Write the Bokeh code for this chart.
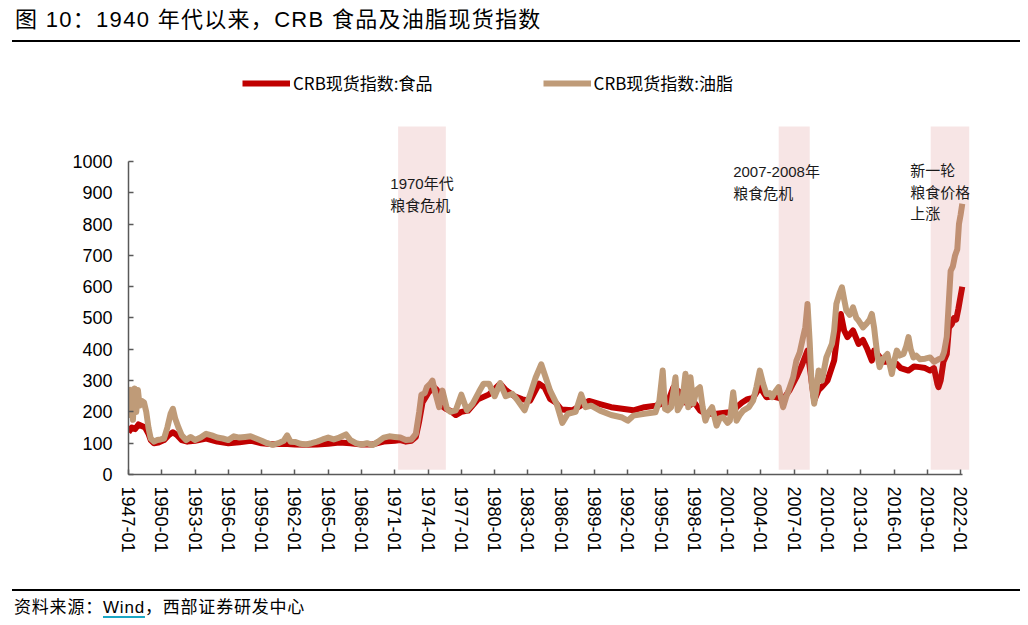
from bokeh.plotting import figure
from bokeh.models import Label, Legend, LegendItem, FixedTicker, Div
from bokeh.layouts import column
from bokeh.embed import file_html
from bokeh.resources import INLINE

# ---------------- data (decimal years) ----------------
food_years = [1947.0, 1947.3, 1947.6, 1947.9, 1948.2, 1948.5, 1948.8, 1949.0, 1949.3, 1949.7,
              1950.2, 1950.6, 1951.0, 1951.4, 1951.8, 1952.3, 1953.0, 1954.0, 1955.0, 1956.0,
              1957.0, 1958.0, 1959.0, 1960.0, 1961.0, 1962.0, 1963.0, 1964.0, 1965.0, 1966.0,
              1967.0, 1968.0, 1969.0, 1970.0, 1971.0, 1971.5, 1972.0, 1972.5, 1972.9, 1973.2,
              1973.5, 1974.0, 1974.5, 1974.8, 1975.2, 1975.6, 1976.0, 1976.5, 1977.0, 1977.6,
              1978.5, 1979.5, 1980.5, 1981.0, 1981.8, 1982.5, 1983.2, 1984.0, 1984.5, 1985.0,
              1985.5, 1986.0, 1987.0, 1988.0, 1988.5, 1989.5, 1990.5, 1991.5, 1992.5, 1993.5,
              1994.5, 1995.0, 1995.6, 1996.1, 1996.8, 1997.2, 1997.6, 1998.0, 1998.5, 1999.0,
              2000.0, 2001.0, 2001.5, 2001.8, 2002.3, 2002.8, 2003.3, 2003.9, 2004.5, 2005.0,
              2005.6, 2006.0, 2006.6, 2007.2, 2007.7, 2008.2, 2008.45, 2008.8, 2009.2, 2009.5,
              2010.0, 2010.6, 2010.9, 2011.2, 2011.5, 2011.8, 2012.3, 2012.8, 2013.2, 2013.6,
              2014.0, 2014.2, 2014.6, 2015.0, 2015.5, 2016.25, 2016.6, 2017.3, 2017.8, 2018.3,
              2018.8, 2019.25, 2019.6, 2019.9, 2020.0, 2020.2, 2020.45, 2020.75, 2020.95, 2021.2,
              2021.4, 2021.6, 2021.8, 2022.0, 2022.15]
food_vals = [135, 150, 145, 160, 155, 150, 130, 110, 100, 102,
             110, 125, 135, 125, 110, 105, 108, 115, 105, 100,
             103, 108, 100, 97, 98, 96, 95, 96, 98, 102,
             100, 96, 96, 105, 108, 110, 105, 108, 120, 170,
             230, 260, 280, 270, 220, 210, 204, 190, 200, 204,
             240, 256, 290, 270, 250, 240, 236, 290, 278, 241,
             230, 208, 205, 225, 235, 225, 215, 210, 205, 215,
             220, 225, 230, 278, 260, 230, 221, 230, 205, 194,
             194, 198, 200, 215, 230, 241, 245, 279, 247, 250,
             245, 240, 270, 311, 350, 396, 330, 236, 270, 280,
             300, 364, 450, 513, 460, 439, 460, 417, 430, 400,
             364, 396, 380, 360, 360, 353, 340, 332, 345, 343,
             340, 332, 340, 290, 279, 300, 360, 385, 470, 480,
             500, 495, 530, 570, 600]

fat_years = [1947.0, 1947.1, 1947.25, 1947.4, 1947.55, 1947.7, 1947.85, 1948.0, 1948.2, 1948.4,
             1948.6, 1948.8, 1949.0, 1949.3, 1949.6, 1949.9, 1950.2, 1950.5, 1950.8, 1951.0,
             1951.2, 1951.5, 1951.8, 1952.2, 1952.6, 1953.0, 1953.5, 1954.0, 1954.5, 1955.0,
             1955.5, 1956.0, 1956.5, 1957.0, 1957.5, 1958.0, 1958.5, 1959.0, 1959.5, 1960.0,
             1960.5, 1961.0, 1961.3, 1961.6, 1962.0, 1962.5, 1963.0, 1963.5, 1964.0, 1964.5,
             1965.0, 1965.5, 1966.0, 1966.6, 1967.0, 1967.5, 1968.0, 1968.5, 1969.0, 1969.5,
             1970.0, 1970.5, 1971.0, 1971.5, 1972.0, 1972.5, 1972.9, 1973.2, 1973.4, 1973.7,
             1973.9, 1974.2, 1974.4, 1974.6, 1975.0, 1975.3, 1975.7, 1976.0, 1976.5, 1977.0,
             1977.5, 1978.0, 1978.6, 1979.0, 1979.5, 1980.0, 1980.5, 1981.0, 1981.6, 1982.0,
             1982.7, 1983.2, 1983.7, 1984.2, 1984.6, 1985.0, 1985.6, 1986.1, 1986.6, 1987.3,
             1987.8, 1988.2, 1988.7, 1989.5, 1990.5, 1991.5, 1992.0, 1992.5, 1993.5, 1994.5,
             1994.85, 1995.15, 1995.35, 1995.6, 1995.9, 1996.3, 1996.5, 1996.9, 1997.2, 1997.45,
             1997.65, 1997.9, 1998.2, 1998.5, 1998.75, 1999.0, 1999.3, 1999.6, 2000.0, 2000.3,
             2000.6, 2001.0, 2001.2, 2001.5, 2001.8, 2002.1, 2002.4, 2002.9, 2003.3, 2003.6,
             2003.9, 2004.2, 2004.5, 2004.8, 2005.0, 2005.3, 2005.6, 2006.0, 2006.3, 2006.6,
             2006.9, 2007.2, 2007.5, 2007.8, 2008.0, 2008.2, 2008.4, 2008.55, 2008.8, 2009.0,
             2009.2, 2009.5, 2009.9, 2010.4, 2010.6, 2010.8, 2011.1, 2011.3, 2011.5, 2011.7,
             2012.0, 2012.3, 2012.6, 2012.8, 2013.2, 2013.5, 2013.8, 2014.0, 2014.2, 2014.3,
             2014.5, 2014.7, 2015.0, 2015.4, 2015.8, 2016.0, 2016.25, 2016.5, 2016.85, 2017.1,
             2017.3, 2017.5, 2017.75, 2018.0, 2018.35, 2018.8, 2019.25, 2019.6, 2020.0, 2020.3,
             2020.5, 2020.75, 2020.95, 2021.1, 2021.3, 2021.5, 2021.7, 2021.85, 2022.0, 2022.15]
fat_vals = [280, 190, 270, 175, 275, 200, 270, 220, 235, 230,
            200, 150, 115, 105, 110, 112, 115, 150, 195, 210,
            180, 150, 125, 110, 120, 110, 118, 130, 125, 118,
            115, 110, 122, 118, 120, 122, 115, 108, 100, 95,
            100, 108, 125, 105, 104, 98, 96, 100, 105, 112,
            118, 112, 118, 128, 110, 100, 96, 100, 94, 105,
            118, 122, 120, 118, 110, 112, 130, 200, 255, 260,
            280, 290, 300, 268, 215, 268, 210, 200, 205, 255,
            205, 225, 265, 290, 290, 250, 292, 250, 258, 240,
            205, 256, 310, 352, 310, 268, 225, 165, 194, 200,
            256, 215, 220, 204, 190, 182, 172, 188, 194, 199,
            236, 332, 210, 205, 215, 311, 205, 230, 322, 215,
            311, 226, 270, 279, 215, 172, 200, 215, 156, 180,
            183, 165, 172, 263, 172, 190, 204, 215, 236, 280,
            332, 290, 257, 260, 247, 265, 279, 215, 250, 279,
            310, 364, 390, 439, 470, 545, 420, 300, 226, 270,
            332, 300, 374, 417, 460, 545, 580, 598, 560, 524,
            510, 534, 500, 492, 470, 481, 495, 513, 470, 439,
            380, 343, 370, 385, 321, 360, 396, 380, 385, 410,
            439, 400, 374, 380, 368, 370, 374, 360, 368, 372,
            390, 439, 560, 650, 665, 700, 720, 800, 830, 865]

# crisis periods (shaded)
shade_start = [1971.3, 2005.6, 2019.3]
shade_end = [1975.6, 2008.4, 2022.8]

x_tick_years = list(range(1947, 2023, 3))
x_tick_labels = [f"{y}-01" for y in x_tick_years]
y_ticks = list(range(0, 1001, 100))

series_names = ["CRB现货指数:食品", "CRB现货指数:油脂"]
title_text = "图 10：1940 年代以来，CRB 食品及油脂现货指数"

# ---------------- styling ----------------
MIX = "'Liberation Sans', 'Noto Sans CJK SC'"
NARROW = "'Liberation Sans Narrow', 'Noto Sans CJK SC'"
RED = "#C00000"
TAN = "#BF9B78"
W = 1024

p = figure(width=W, height=541, x_range=(1947, 2022.8), y_range=(0, 1361),
           output_backend="svg", toolbar_location=None, title=None,
           min_border_left=128, min_border_right=55, min_border_top=4, min_border_bottom=111)
p.outline_line_color = None
p.xgrid.visible = False
p.ygrid.visible = False
p.background_fill_color = "white"
p.border_fill_color = "white"

r_food = p.line(food_years, food_vals, line_color=RED, line_width=6, line_join="round")
r_fat = p.line(fat_years, fat_vals, line_color=TAN, line_width=6, line_join="round")

p.quad(left=shade_start, right=shade_end, bottom=15, top=1112,
       fill_color="#C85050", fill_alpha=0.15, line_color=None)

# axes
for ax in (p.xaxis[0], p.yaxis[0]):
    ax.axis_line_color = "#595959"
    ax.axis_line_width = 1.5
    ax.major_tick_line_color = "#595959"
    ax.major_tick_line_width = 1.5
    ax.major_tick_in = 5
    ax.major_tick_out = 0
    ax.minor_tick_line_color = None
    ax.major_label_text_font = MIX
    ax.major_label_text_font_size = "18px"
    ax.major_label_text_color = "black"

p.yaxis.ticker = FixedTicker(ticks=y_ticks)
p.yaxis.bounds = (0, 1000)
p.yaxis.major_label_standoff = 16

p.xaxis.ticker = FixedTicker(ticks=x_tick_years)
p.xaxis.major_label_overrides = dict(zip(x_tick_years, x_tick_labels))
p.xaxis.major_label_orientation = "vertical"
p.xaxis.bounds = (1947, 2022.2)
p.xaxis.major_label_standoff = 12

# legend
legend = Legend(items=[LegendItem(label=series_names[0], renderers=[r_food]),
                       LegendItem(label=series_names[1], renderers=[r_fat])],
                location=(114, 379), orientation="horizontal",
                glyph_width=48, glyph_height=20, label_standoff=3, spacing=110,
                padding=0, margin=0, border_line_color=None, background_fill_alpha=0,
                label_text_font=NARROW, label_text_font_size="17px", label_text_color="black")
p.add_layout(legend, "center")

# period annotations (data units)
ann = [("1970年代", 1970.6, 930), ("粮食危机", 1970.6, 860),
       ("2007-2008年", 2001.5, 968), ("粮食危机", 2001.5, 898),
       ("新一轮", 2017.45, 971), ("粮食价格", 2017.45, 901), ("上涨", 2017.45, 834)]
for t, xx, yy in ann:
    p.add_layout(Label(x=xx, y=yy, text=t, text_font=MIX, text_font_size="15px",
                       text_baseline="middle", text_align="left", text_color="#1a1a1a"))

FONT_CSS = "font-family:'Liberation Sans','Noto Sans CJK SC',sans-serif;color:#000;white-space:nowrap;"

title_div = Div(
    text=(f'<div style="width:1008px;height:42px;margin-left:12px;border-bottom:2px solid #000;'
          f'box-sizing:border-box;padding-left:3px;padding-top:7px;font-size:22px;line-height:26px;'
          f'letter-spacing:1.3px;{FONT_CSS}">'
          f'{title_text}</div>'),
    width=W, height=44, margin=0)

footer_div = Div(
    text=(f'<div style="width:1008px;height:35px;margin-left:12px;margin-top:4px;border-top:2px solid #000;'
          f'box-sizing:border-box;padding-left:2px;padding-top:6px;font-size:17px;line-height:22px;'
          f'letter-spacing:0.8px;{FONT_CSS}">'
          '资料来源：<span style="text-decoration:underline;text-decoration-color:#1AA6C4;'
          'text-decoration-thickness:2px;text-underline-offset:3px;">Wind</span>，西部证券研发中心</div>'),
    width=W, height=39, margin=0)

layout = column(title_div, p, footer_div, spacing=0)

open("out.html", "w").write(file_html(layout, INLINE))
